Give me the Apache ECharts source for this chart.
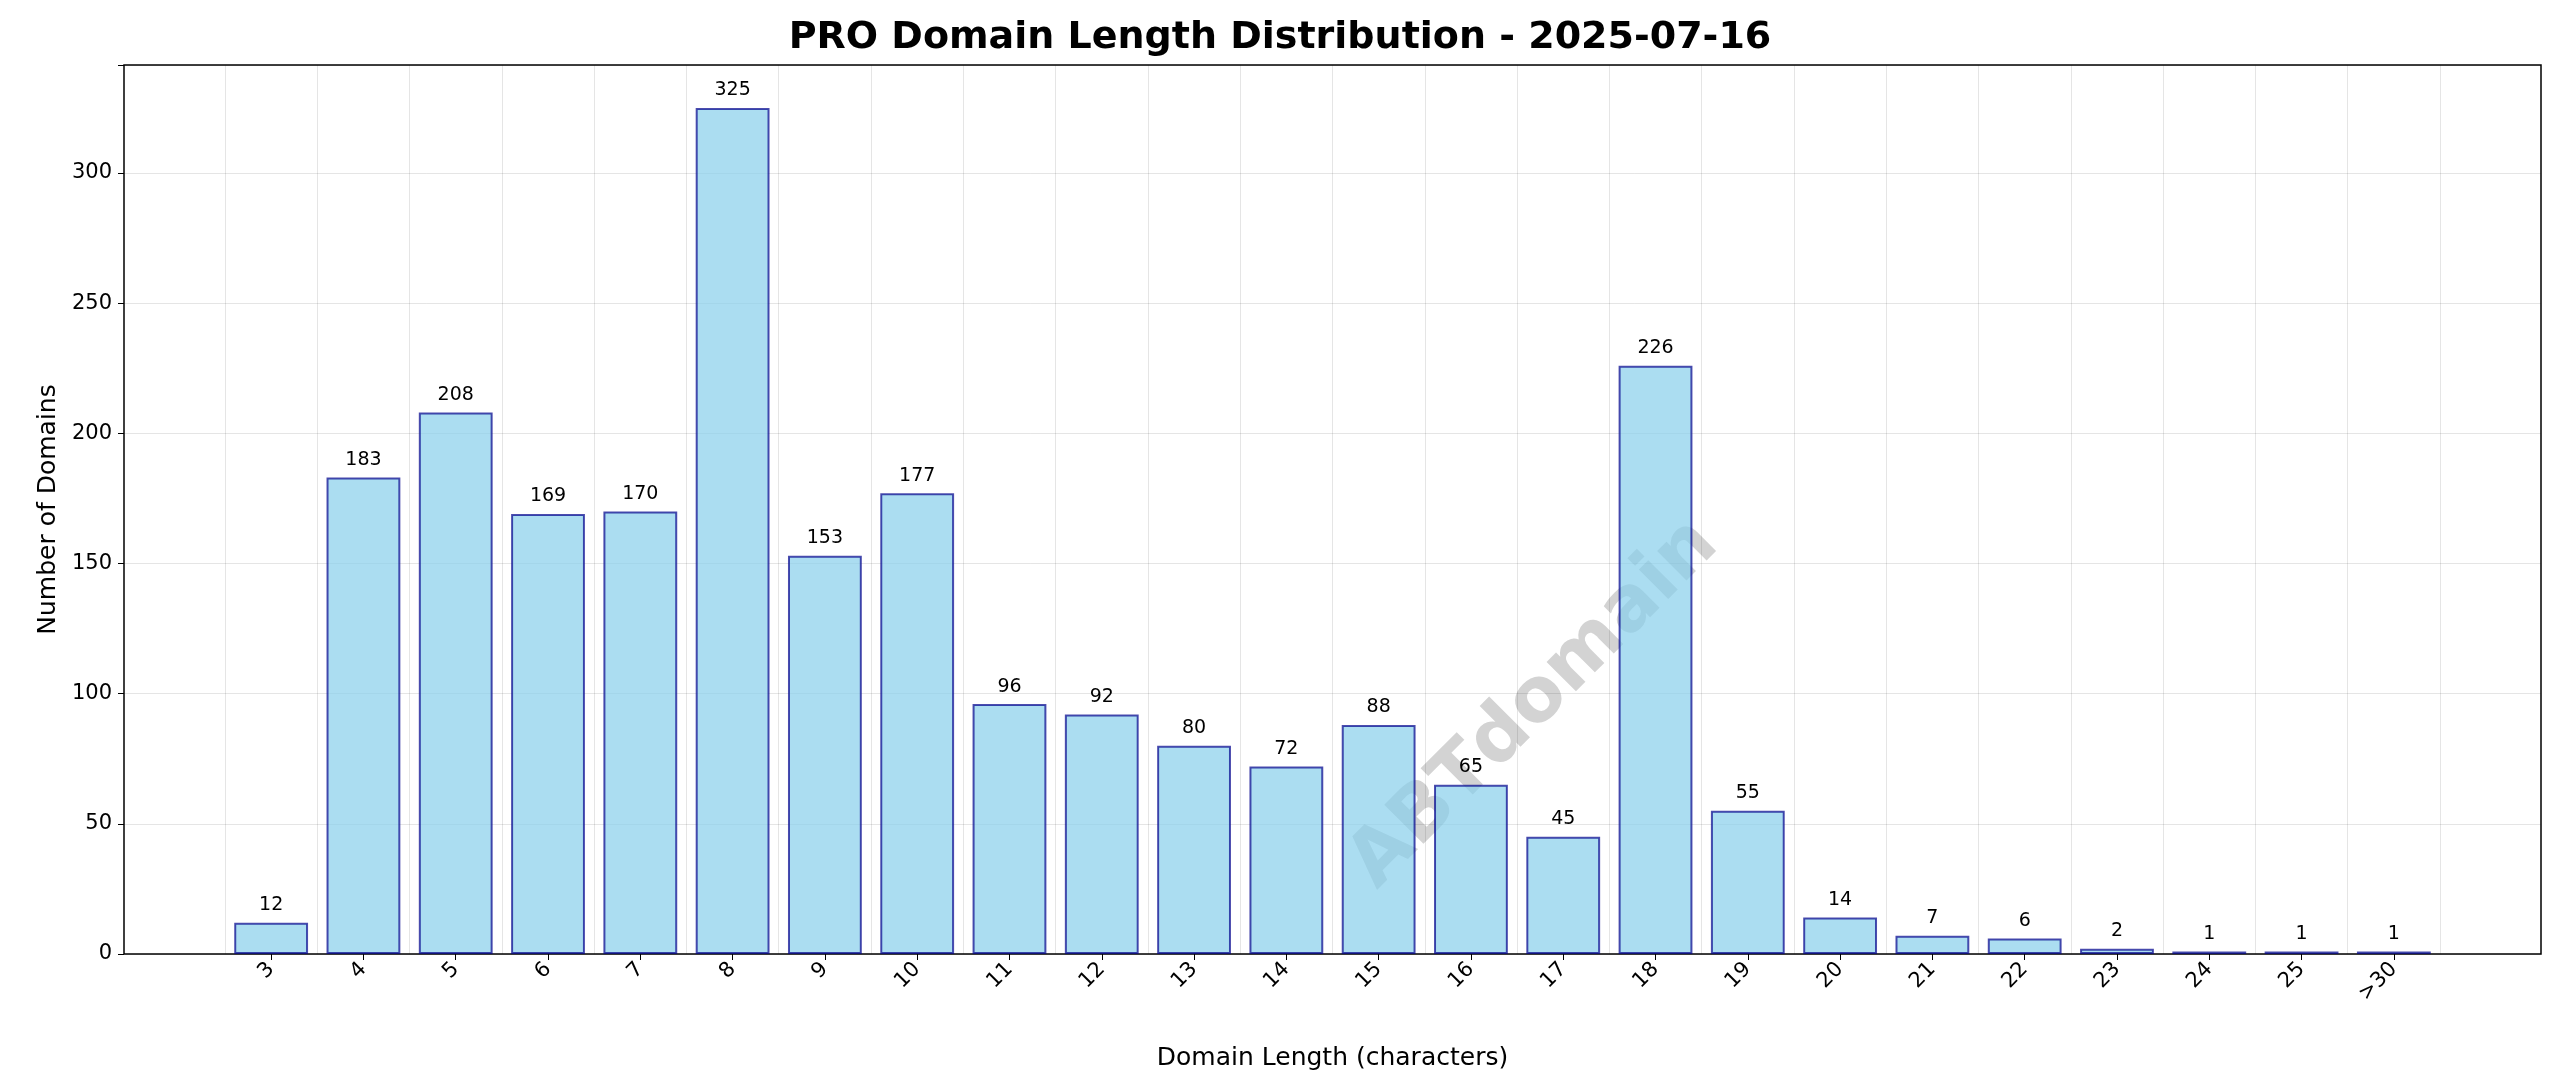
<!DOCTYPE html>
<html><head><meta charset="utf-8">
<script src="https://cdn.jsdelivr.net/npm/echarts@6/dist/echarts.min.js"></script>
<style>html,body{margin:0;background:#fff}#c{width:2560px;height:1087px}</style>
</head><body><div id="c"></div>
<script>
const categories = ['3','4','5','6','7','8','9','10','11','12','13','14','15','16','17','18','19','20','21','22','23','24','25','>30'];
const counts = [12,183,208,169,170,325,153,177,96,92,80,72,88,65,45,226,55,14,7,6,2,1,1,1];
const yTicks = [0,50,100,150,200,250,300];
const YMAX = 341.5;
const font = 'DejaVu Sans';
const chart = echarts.init(document.getElementById('c'));
chart.setOption({
  animation:false,
  textStyle:{fontFamily:font},
  title:{text:'PRO Domain Length Distribution - 2025-07-16',left:'center',top:14,
    textStyle:{fontSize:38,fontWeight:'bold',color:'#000',fontFamily:font}},
  graphic:[{type:'text',left:1336,top:506,rotation:Math.PI/4,
    style:{text:'ABTdomain',fontSize:76,fontWeight:'bold',fill:'rgba(128,128,128,0.35)',
      fontFamily:font,align:'center',verticalAlign:'middle'},origin:[0,0],x:1336,y:506}],
  grid:[
    {left:225,width:2215,top:65,height:889,containLabel:false},
    {left:124,width:2417,top:65,height:889,show:true,borderColor:'#000',borderWidth:1.5,backgroundColor:'transparent'}
  ],
  xAxis:[
    {type:'category',gridIndex:0,data:categories,
     axisLine:{show:false},axisTick:{show:true,length:6,alignWithLabel:true,lineStyle:{color:'#000'}},
     axisLabel:{rotate:45,fontSize:21,color:'#000',margin:12,interval:0},
     splitLine:{show:true,interval:0,lineStyle:{color:'rgba(0,0,0,0.1)'}},
     name:'Domain Length (characters)',nameLocation:'middle',nameGap:92,
     nameTextStyle:{fontSize:25,color:'#000'}},
    {type:'value',gridIndex:1,show:false}
  ],
  yAxis:[
    {type:'value',gridIndex:0,min:0,max:YMAX,show:false},
    {type:'value',gridIndex:1,min:0,max:YMAX,interval:50,
     axisLine:{show:false},axisTick:{show:true,length:6,lineStyle:{color:'#000'}},
     axisLabel:{fontSize:21,color:'#000',margin:12,
       formatter:v=>yTicks.includes(v)?String(v):''},
     splitLine:{show:true,lineStyle:{color:'rgba(0,0,0,0.1)'}},
     name:'Number of Domains',nameLocation:'middle',nameGap:62,
     nameTextStyle:{fontSize:25,color:'#000'}}
  ],
  series:[{type:'bar',xAxisIndex:0,yAxisIndex:0,data:counts,barCategoryGap:'20%',
    itemStyle:{color:'rgba(135,206,235,0.7)',borderColor:'rgba(0,0,139,0.7)',borderWidth:2},
    label:{show:true,position:'top',distance:8,fontSize:19,color:'#000'}}]
});
</script></body></html>
